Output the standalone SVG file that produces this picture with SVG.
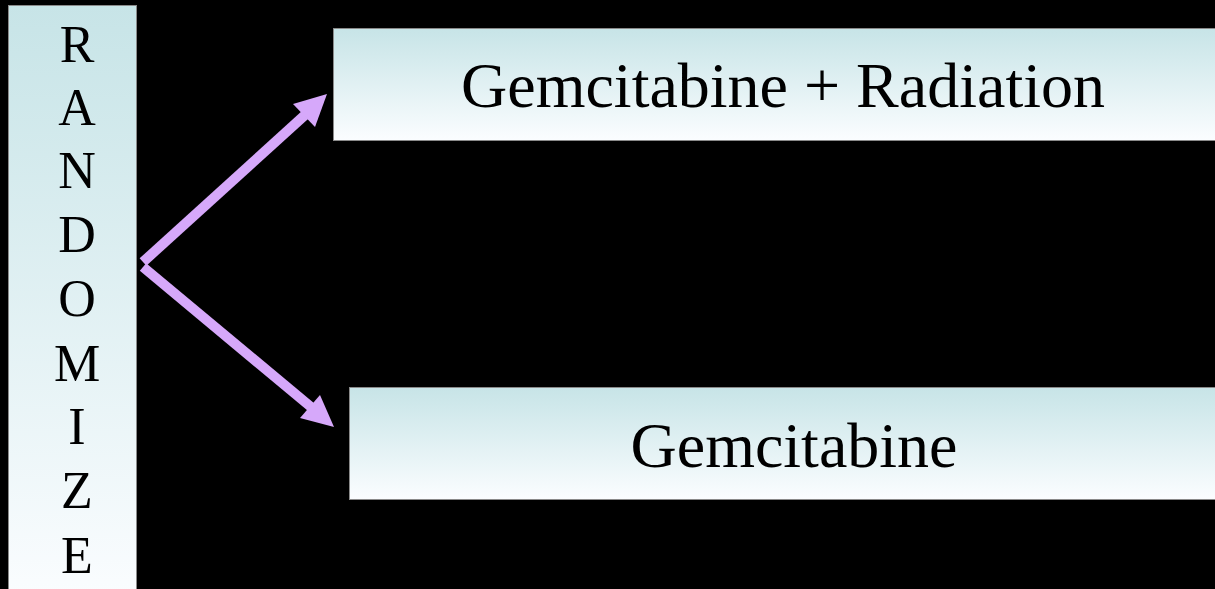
<svg xmlns="http://www.w3.org/2000/svg" width="1215" height="589" viewBox="0 0 1215 589">
<defs>
<linearGradient id="g" x1="0" y1="0" x2="0" y2="1">
<stop offset="0" stop-color="#c7e4e7"/>
<stop offset="1" stop-color="#fbfdff"/>
</linearGradient>
<style>
.box{fill:url(#g);stroke:#8a8a8a;stroke-width:1}
.t{font-family:"Liberation Serif","Times New Roman",serif;fill:#000}
.big{font-size:64px;text-anchor:middle}
.let{font-size:52px;text-anchor:middle}
.ln{stroke:#d6a8fa;stroke-width:10;fill:none;stroke-linecap:butt}
.hd{fill:#d6a8fa}
</style>
</defs>
<rect width="1215" height="589" fill="#000"/>
<g id="randomize">
<rect class="box" x="8.5" y="5.5" width="128" height="600"/>
<text class="t let" x="77" y="62">R</text>
<text class="t let" x="77" y="125">A</text>
<text class="t let" x="77" y="188">N</text>
<text class="t let" x="77" y="252">D</text>
<text class="t let" x="77" y="316">O</text>
<text class="t let" x="77" y="381">M</text>
<text class="t let" x="77" y="444">I</text>
<text class="t let" x="77" y="508">Z</text>
<text class="t let" x="77" y="573">E</text>
</g>
<g id="gem-rad">
<rect class="box" x="333.5" y="28.5" width="890" height="112"/>
<text class="t big" x="783" y="107">Gemcitabine + Radiation</text>
</g>
<g id="gem">
<rect class="box" x="349.5" y="387.5" width="880" height="112"/>
<text class="t big" x="794" y="467">Gemcitabine</text>
</g>
<g id="connectors">
<line class="ln" x1="143" y1="262" x2="305" y2="115"/>
<polygon class="hd" points="327,94 293,104 315,127"/>
<line class="ln" x1="143" y1="267" x2="311" y2="407"/>
<polygon class="hd" points="334,427 300,418 320,395"/>
</g>
</svg>
